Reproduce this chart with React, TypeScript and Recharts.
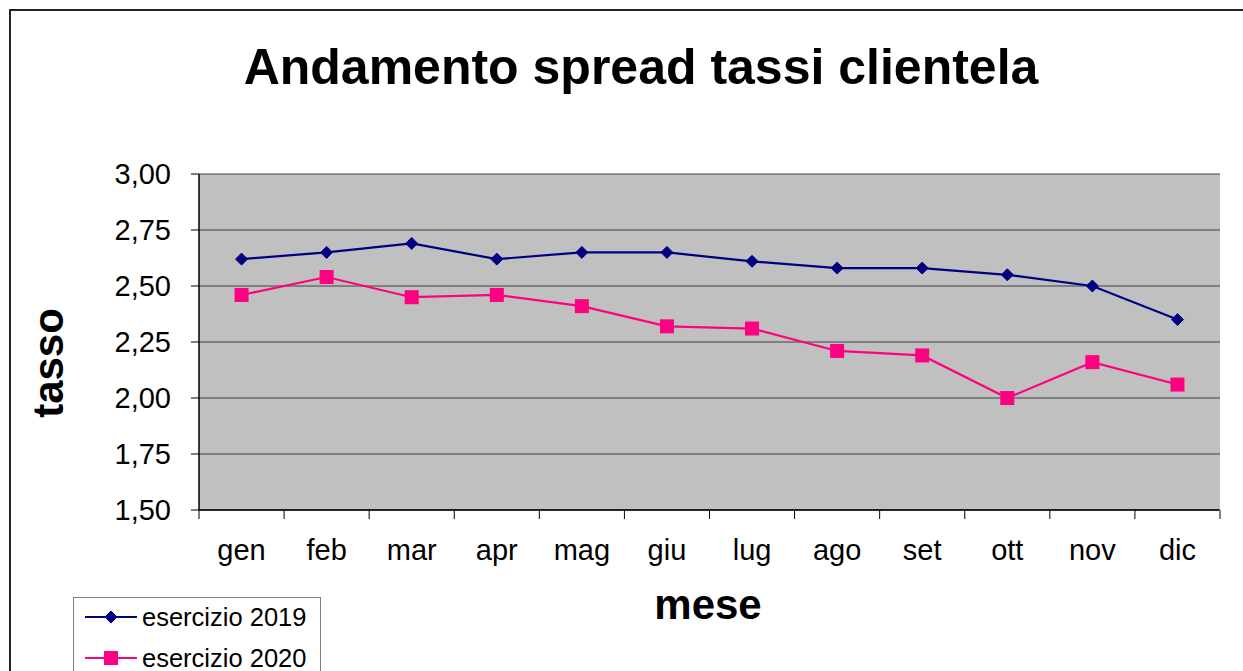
import React from 'react';
import { LineChart, Line, XAxis, YAxis, CartesianGrid } from 'recharts';

const months = ['gen', 'feb', 'mar', 'apr', 'mag', 'giu', 'lug', 'ago', 'set', 'ott', 'nov', 'dic'];
const spread2019 = [2.62, 2.65, 2.69, 2.62, 2.65, 2.65, 2.61, 2.58, 2.58, 2.55, 2.5, 2.35];
const spread2020 = [2.46, 2.54, 2.45, 2.46, 2.41, 2.32, 2.31, 2.21, 2.19, 2.0, 2.16, 2.06];
const yTicks = [1.5, 1.75, 2.0, 2.25, 2.5, 2.75, 3.0];
const seriesNames = ['esercizio 2019', 'esercizio 2020'];
const seriesKeys = ['s2019', 's2020'];
const seriesColors = ['#000080', '#FF0080'];
const seriesMarkers = ['diamond', 'square'];
const titleText = 'Andamento spread tassi clientela';
const xTitle = 'mese';
const yTitle = 'tasso';

const data = months.map((m, i) => ({ mese: m, s2019: spread2019[i], s2020: spread2020[i] }));

const FONT = '"Liberation Sans", Arial, sans-serif';

const Marker = ({ kind, cx, cy, color }: { kind: string; cx: number; cy: number; color: string }) => {
  if (cx == null || cy == null) return null;
  if (kind === 'diamond') {
    const r = 6;
    return <path d={`M${cx},${cy - r} L${cx + r},${cy} L${cx},${cy + r} L${cx - r},${cy} Z`} fill={color} stroke={color} strokeWidth={1} />;
  }
  const s = 7;
  return <rect x={cx - s} y={cy - s} width={2 * s} height={2 * s} fill={color} />;
};

const XTick = (props: any) => {
  const { x, y, payload, index } = props;
  const half = payload && payload.offset != null ? payload.offset : 0;
  return (
    <g>
      <line x1={x - half} y1={y} x2={x - half} y2={y + 9} stroke="#000" strokeWidth={1} />
      {index === months.length - 1 && (
        <line x1={x + half} y1={y} x2={x + half} y2={y + 9} stroke="#808080" strokeWidth={2} />
      )}
      <text x={x} y={y + 50} textAnchor="middle" fontSize={29} fontFamily={FONT} fill="#000">
        {payload.value}
      </text>
    </g>
  );
};

export default function App() {
  return (
    <div style={{ position: 'absolute', left: 0, top: 0, width: 1243, height: 671, overflow: 'hidden', background: '#fff' }}>
      <div style={{ position: 'absolute', left: 9, top: 9, width: 1400, height: 900, border: '2px solid #222', boxSizing: 'border-box' }} />
      <div style={{ position: 'absolute', left: 0, top: 0 }}>
        <LineChart width={1243} height={671} data={data} margin={{ top: 174, right: 23, left: 99, bottom: 101 }}>
          <CartesianGrid vertical={false} fill="#C0C0C0" fillOpacity={1} stroke="#404040" strokeWidth={1} />
          <XAxis
            dataKey="mese"
            scale="band"
            height={60}
            tickSize={0}
            tickMargin={0}
            tickLine={false}
            axisLine={{ stroke: '#000', strokeWidth: 1.5 }}
            tick={<XTick />}
            interval={0}
          />
          <XAxis
            xAxisId="top"
            orientation="top"
            dataKey="mese"
            scale="band"
            height={0}
            tick={false}
            tickLine={false}
            axisLine={{ stroke: '#808080', strokeWidth: 2 }}
          />
          <YAxis
            domain={[1.5, 3]}
            ticks={yTicks}
            width={100}
            tickSize={8}
            tickMargin={20}
            tickFormatter={(v: number) => v.toFixed(2).replace('.', ',')}
            tick={{ fontSize: 29, fontFamily: FONT, fill: '#000' }}
            tickLine={{ stroke: '#000' }}
            axisLine={{ stroke: '#000', strokeWidth: 1.5 }}
            interval={0}
          />
          <YAxis
            yAxisId="right"
            orientation="right"
            domain={[1.5, 3]}
            width={0}
            tick={false}
            tickLine={false}
            axisLine={{ stroke: '#808080', strokeWidth: 2 }}
          />
          {seriesKeys.map((k, i) => (
            <Line
              key={k}
              type="linear"
              dataKey={k}
              name={seriesNames[i]}
              stroke={seriesColors[i]}
              strokeWidth={2.2}
              isAnimationActive={false}
              dot={(p: any) => <Marker key={`${k}-${p.index}`} kind={seriesMarkers[i]} cx={p.cx} cy={p.cy} color={seriesColors[i]} />}
              activeDot={false}
            />
          ))}
        </LineChart>
      </div>
      <svg width={1243} height={671} style={{ position: 'absolute', left: 0, top: 0, pointerEvents: 'none' }}>
        <text x={641} y={84} textAnchor="middle" fontSize={50} fontWeight="bold" fontFamily={FONT} fill="#000">
          {titleText}
        </text>
        <text x={708} y={619} textAnchor="middle" fontSize={42} fontWeight="bold" fontFamily={FONT} fill="#000">
          {xTitle}
        </text>
        <text transform="translate(63,363) rotate(-90)" x={0} y={0} textAnchor="middle" fontSize={42} fontWeight="bold" fontFamily={FONT} fill="#000">
          {yTitle}
        </text>
      </svg>
      <svg width={250} height={90} style={{ position: 'absolute', left: 73, top: 597 }}>
        <rect x={0.5} y={0.5} width={247} height={100} fill="#fff" stroke="#808080" strokeWidth={1} />
        {seriesNames.map((n, i) => {
          const cy = 20 + i * 41;
          return (
            <g key={n}>
              <line x1={12} y1={cy} x2={64} y2={cy} stroke={seriesColors[i]} strokeWidth={2} />
              <Marker kind={seriesMarkers[i]} cx={38} cy={cy} color={seriesColors[i]} />
              <text x={69} y={cy + 9} fontSize={25.5} fontFamily={FONT} fill="#000">
                {n}
              </text>
            </g>
          );
        })}
      </svg>
    </div>
  );
}
